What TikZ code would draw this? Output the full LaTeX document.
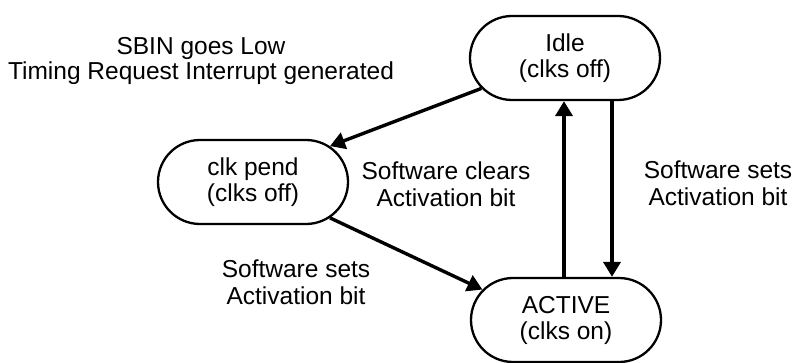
\documentclass[tikz,border=0pt]{standalone}
\usepackage{fontspec}
\setmainfont{Liberation Sans}
\usetikzlibrary{arrows.meta,shapes.misc}
\begin{document}
\begin{tikzpicture}[x=1pt,y=-1pt,
  state/.style={rounded rectangle,draw,line width=2.3pt,minimum width=190pt,minimum height=84pt,align=center,font=\fontsize{24.5}{26}\selectfont,inner sep=0pt},
  lbl/.style={align=center,font=\fontsize{24.5}{27}\selectfont,inner sep=0pt},
  conn/.style={line width=3.4pt,-{Triangle[length=15pt,width=17pt]}},
  vconn/.style={conn,line width=4pt}]
\useasboundingbox (0,0) rectangle (799,363);
\node[state] (idle) at (565,58) {Idle\\(clks off)};
\node[state] (pend) at (253,182) {clk pend\\(clks off)};
\node[state] (act) at (566,320) {ACTIVE\\(clks on)};
\node[lbl,font=\fontsize{24.5}{25}\selectfont] (l1) at (201,61) {SBIN goes Low\\Timing Request Interrupt generated};
\node[lbl] (l2) at (446,184) {Software clears\\Activation bit};
\node[lbl] (l3) at (718,183) {Software sets\\Activation bit};
\node[lbl] (l4) at (296,282) {Software sets\\Activation bit};
\draw[conn] (idle.200) -- (pend.25);
\draw[conn] (pend.-25) -- (act.160);
\coordinate (a1) at ([xshift=-2pt]act.north);
\draw[vconn] (a1) -- (a1 |- idle.south);
\coordinate (a2) at ([xshift=47pt]idle.south);
\draw[vconn] (a2) -- (a2 |- act.north);
\end{tikzpicture}
\end{document}
